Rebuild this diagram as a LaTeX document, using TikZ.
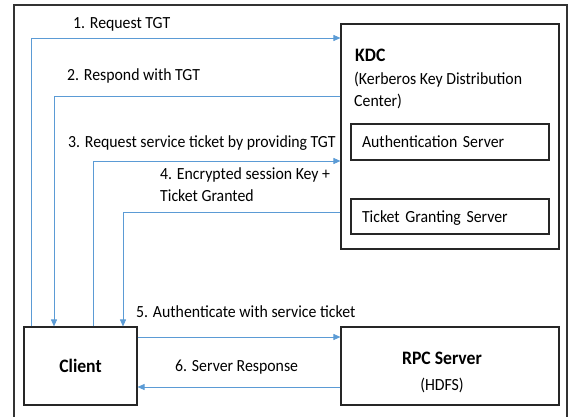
\documentclass[tikz,border=0pt]{standalone}
\usepackage{fontspec}
\setmainfont{Carlito}[FakeStretch=0.93]
\usetikzlibrary{arrows.meta}
\definecolor{flowblue}{HTML}{5B9BD5}

\begin{document}
\begin{tikzpicture}[x=1pt,y=-1pt]
	\tikzstyle{box} = [draw=black!85, line width=1.1pt, rectangle, inner sep=0pt]
	\tikzstyle{flow} = [draw=flowblue, line width=0.8pt, -{Triangle[length=7pt,width=6pt]}]
	\tikzstyle{msg} = [anchor=base west, inner sep=0pt, font=\fontsize{17}{22}\selectfont]
	\useasboundingbox (0,0) rectangle (570,417);
	% Outer frame
	\draw[line width=1.4pt, black!80] (14,425) -- (14,5) -- (567,5) -- (567,425);

	% Boxes
	\node[box, minimum width=218pt, minimum height=225pt] (kdc) at (450,136.5) {};
	\node[box, minimum width=198pt, minimum height=36pt, text width=176pt, align=left, inner xsep=11pt, text depth=0pt, font=\fontsize{17}{22}\selectfont] (as) at (450,142) {Authentication Server};
	\node[box, minimum width=198pt, minimum height=35pt, text width=176pt, align=left, inner xsep=11pt, text depth=0pt, font=\fontsize{17}{22}\selectfont] (tgs) at (450,216.5) {Ticket Granting Server};
	\node[box, minimum width=113pt, minimum height=78pt, text depth=0pt, font=\fontsize{19}{22}\selectfont\bfseries] (client) at (80.5,366) {Client};
	\node[box, minimum width=218pt, minimum height=78pt] (rpc) at (450,366) {};
	% Box texts (multi-line nodes sit on their last line)
	\node[msg, font=\fontsize{19}{22}\selectfont\bfseries] (kdcname) at (355,62) {KDC};
	\node[msg, align=left] (kdcfull) at (354,107) {(Kerberos Key Distribution\\Center)};
	\node[anchor=base, inner sep=0pt, font=\fontsize{19}{22}\selectfont\bfseries] (rpcname) at (442,364) {RPC Server};
	\node[anchor=base, inner sep=0pt, font=\fontsize{17}{22}\selectfont] (rpcsub) at (442,390) {(HDFS)};

	% Bend points
	\coordinate (r1) at (31,38);
	\coordinate (r2) at (54,96);
	\coordinate (r3) at (93,161);
	\coordinate (r4) at (123,212);
	\coordinate (r5) at (137,337);
	\coordinate (r6) at (137,387);

	% Connect client and KDC
	\draw[flow] (client.north -| r1) |- (kdc.west |- r1);
	\draw[flow] (kdc.west |- r2) -| (client.north -| r2);
	\draw[flow] (client.north -| r3) |- (kdc.west |- r3);
	\draw[flow] (kdc.west |- r4) -| (client.north -| r4);
	% Connect client and RPC server
	\draw[flow] (client.east |- r5) -- (rpc.west |- r5);
	\draw[flow] (rpc.west |- r6) -- (client.east |- r6);

	% Step labels
	\node[msg] (l1) at (73,29) {1. Request TGT};
	\node[msg] (l2) at (67,81) {2. Respond with TGT};
	\node[msg] (l3) at (68,147) {3. Request service ticket by providing TGT};
	\node[msg, align=left] (l4) at (160,201) {4. Encrypted session Key +\\Ticket Granted};
	\node[msg] (l5) at (136,317) {5. Authenticate with service ticket};
	\node[msg] (l6) at (175,371) {6. Server Response};
\end{tikzpicture}
\end{document}
